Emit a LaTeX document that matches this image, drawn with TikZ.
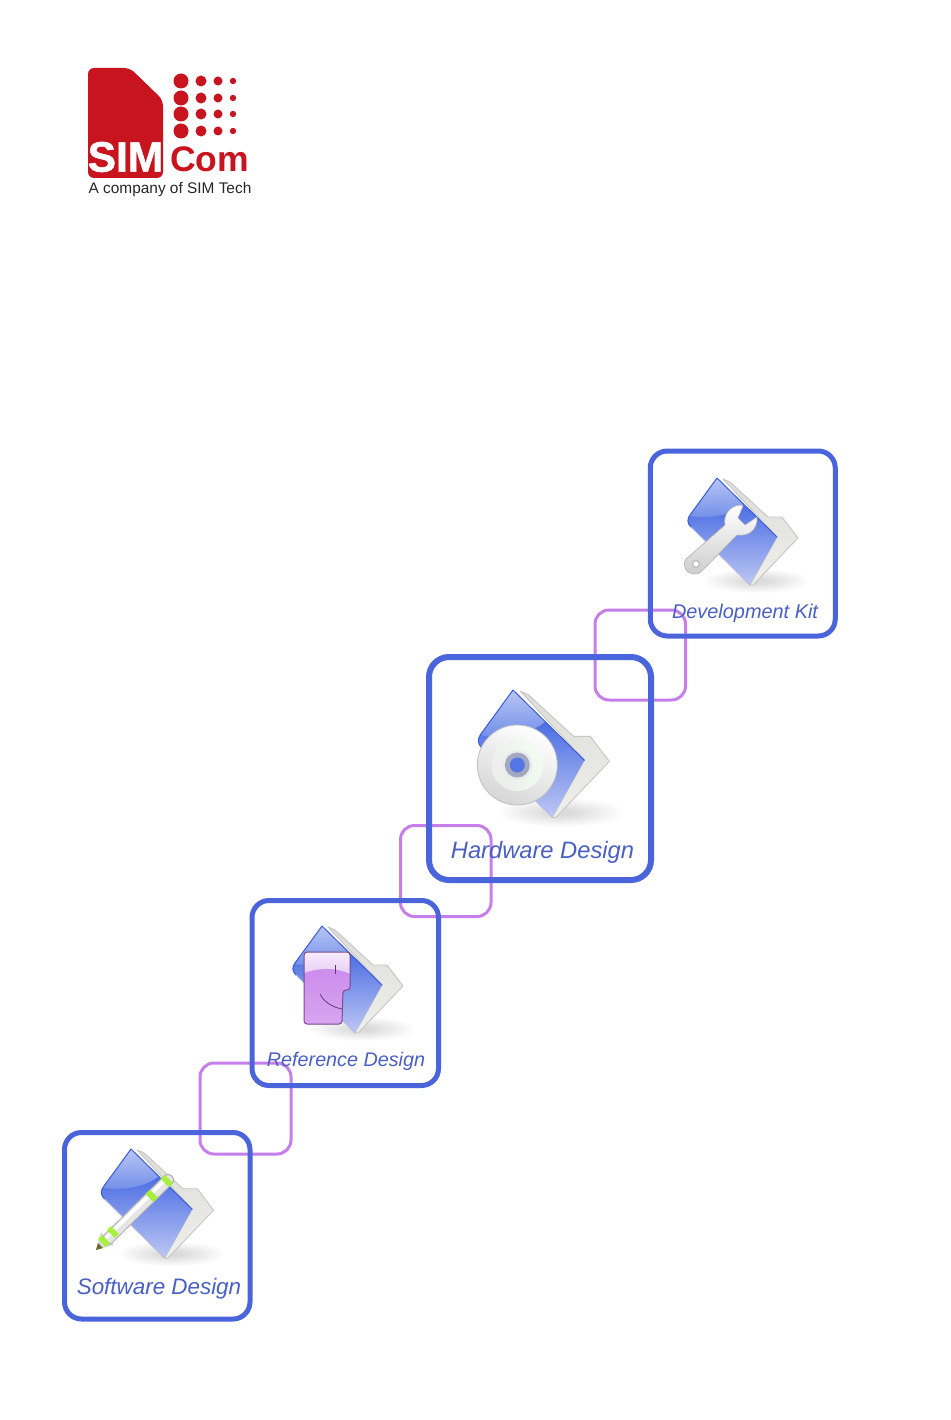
\documentclass[tikz,border=0pt]{standalone}
\usepackage{fontspec}
\setmainfont{Liberation Sans}
\newfontfamily\heavyfont{Liberation Sans}[BoldFeatures={FakeBold=1.2}]
\definecolor{simred}{HTML}{C8141E}
\definecolor{frameblue}{HTML}{4A64DC}
\definecolor{linkpurple}{HTML}{C67FEA}
\definecolor{labelblue}{HTML}{4A5FC4}
\definecolor{folderdark}{HTML}{4468E2}
\definecolor{foldermid}{HTML}{5476E4}
\definecolor{folderlight}{HTML}{C0C9F4}
\definecolor{glosslight}{HTML}{BCC8F4}
\definecolor{glossdark}{HTML}{6E8CE8}
\definecolor{edgeblue}{HTML}{3A5CD6}
\definecolor{paper}{HTML}{DCDCD9}
\definecolor{paperlow}{HTML}{EFEFEC}
\definecolor{paperedge}{HTML}{C6C6C2}
\definecolor{lime}{HTML}{A6F03C}
\tikzset{
  frame/.style={draw=frameblue,line width=#1,rounded corners=17pt,inner sep=0pt,outer sep=0pt},
  frame/.default=5pt,
  link/.style={draw=linkpurple,line width=3pt,rounded corners=14pt},
  boxlabel/.style={text=labelblue,font=\itshape,inner sep=0pt,anchor=center},
  limeband/.style={lime,line width=11pt},
  folder/.pic={
    % soft ground shadow
    \foreach \r in {1.00,0.93,...,0.2}{
      \fill[black,opacity=0.013] (40,103) ellipse ({52*\r} and {12*\r});
    }
    % back sheet
    \shade[top color=paper,bottom color=paperlow,draw=paperedge,line width=0.9pt,line join=round]
      (6,1) -- (13,4) -- (51,39) -- (65,39) -- (81,60) -- (36,107) -- (33,107) -- (60,59) -- cycle;
    % front flap
    \begin{scope}
      \clip (0,0) -- (-27,37) .. controls (-30,41) and (-30,45) .. (-26,49) -- (33,107) -- (60,59) -- cycle;
      \shade[top color=folderdark,middle color=foldermid,bottom color=folderlight] (-32,22) rectangle (62,108);
      \shade[top color=glosslight,bottom color=glossdark]
        (-32,-2) -- (28,-2) -- (28,26) .. controls (14,38) and (-12,42) .. (-32,37) -- cycle;
    \end{scope}
    \draw[edgeblue,line width=1pt,line join=round,line cap=round]
      (60,59) -- (0,0) -- (-27,37) .. controls (-30,41) and (-30,45) .. (-26,49);
    \draw[folderlight!80!gray,line width=0.8pt] (-26,49) -- (33,107);
  }
}
\begin{document}
\begin{tikzpicture}[x=1pt,y=-1pt]
\useasboundingbox (0,0) rectangle (950,1420);
\fill[white] (0,0) rectangle (950,1420);

% ---------- logo
\fill[simred,rounded corners=6pt] (88,68) -- (130,68) -- (163,100) -- (163,178) -- (88,178) -- cycle;
\foreach \yy in {81,98,114,131}{
  \fill[simred] (181,\yy) circle (7.5);
  \fill[simred] (201,\yy) circle (5.5);
  \fill[simred] (218,\yy) circle (4.5);
  \fill[simred] (233,\yy) circle (3.2);
}
\node[inner sep=0pt,anchor=center,text=white,font=\heavyfont\bfseries\fontsize{42.5}{43}\selectfont] (logosim) at (125.5,157) {SIM};
\node[inner sep=0pt,anchor=center,text=simred,font=\bfseries\fontsize{35.5}{36}\selectfont] (logocom) at (209.5,159) {Com};
\node[inner sep=0pt,anchor=center,text=black!85,font=\fontsize{15.4}{16}\selectfont] (logotag) at (170,190) {A company of SIM Tech};

% ---------- purple linking squares (under the blue frames)
\draw[link] (595,610) rectangle (685.5,700);
\draw[link] (400.5,825.5) rectangle (491,916.5);
\draw[link] (200,1063) rectangle (291,1154);

% ---------- blue frames
\node[frame=5pt,minimum width=185pt,minimum height=185pt] (devframe) at (742.75,543.5) {};
\node[frame=6pt,rounded corners=20pt,minimum width=222pt,minimum height=223pt] (hwframe) at (540,768.5) {};
\node[frame=5pt,minimum width=186.5pt,minimum height=185pt] (refframe) at (345.25,993) {};
\node[frame=5pt,minimum width=185.5pt,minimum height=186.5pt] (swframe) at (157.25,1225.75) {};

% ---------- Development Kit icon
\pic at (717,478) {folder};
\begin{scope}[shift={(717,478)}]
  \shade[top color=white,bottom color=black!20,draw=black!30,line width=0.6pt,line join=round]
    (-31,81) -- (8,47) .. controls (6,38) and (12,28) .. (23,27) -- (26,28)
    -- (21,40) -- (28,47) -- (40,39)
    .. controls (41,50) and (33,59) .. (20,57)
    -- (-15,93) .. controls (-19,98) and (-29,97) .. (-32,90)
    .. controls (-33,87) and (-33,83) .. (-31,81) -- cycle;
  \fill[black!25] (-21,86) circle (4.2);
  \fill[white] (-21,86) circle (2.6);
\end{scope}

% ---------- Hardware Design icon
\pic[scale=1.19] at (513,690) {folder};
\shade[top color=white,bottom color=black!16,shading angle=-25,draw=black!25,line width=0.8pt] (517.3,765) circle (40);
\shade[left color=black!6,right color=green!6!white,opacity=0.8] (517.3,765) circle (26);
\fill[black!8] (517.3,765) circle (15);
\fill[folderlight!55!gray] (517.3,765) circle (12.5);
\fill[foldermid] (517.3,765) circle (7.5);

% ---------- Reference Design icon
\pic at (322,926) {folder};
\begin{scope}[shift={(322,926)}]
  \shade[top color=white!85!linkpurple,bottom color=linkpurple!90!white,rounded corners=3pt]
    (-18,26) -- (28,26) -- (28,64) -- (21,64) -- (20,98) -- (-18,98) -- cycle;
  \begin{scope}
    \clip[rounded corners=3pt] (-18,26) -- (28,26) -- (28,64) -- (21,64) -- (20,98) -- (-18,98) -- cycle;
    \shade[top color=linkpurple!90!white,bottom color=linkpurple!70!white]
      (-18,47) .. controls (0,41) and (15,42) .. (28,48) -- (28,99) -- (-18,99) -- cycle;
  \end{scope}
  \draw[black!40!linkpurple,line width=1pt,rounded corners=3pt]
    (-18,26) -- (28,26) -- (28,64) -- (21,64) -- (20,98) -- (-18,98) -- cycle;
  \draw[black!55!linkpurple,line width=1pt] (13,39) -- (13,48);
  \draw[black!45!linkpurple,line width=0.9pt] (-2,68) .. controls (2,76) and (10,81) .. (20,83);
\end{scope}

% ---------- Software Design icon
\pic[scale=1.02] at (131,1149) {folder};
\begin{scope}[shift={(131,1149)}]
  % pencil tip
  \fill[black!15] (-35,101) -- (-30,83) -- (-17,96) -- cycle;
  \fill[olive!70!black] (-35,101) -- (-33,94) -- (-28,99) -- cycle;
  % barrel
  \draw[black!32,line width=12pt,line cap=round] (-23,90) -- (37,31);
  \draw[black!10,line width=10pt,line cap=round] (-23,90) -- (37,31);
  \draw[white,line width=3.5pt,line cap=round] (-24,88) -- (35,30);
  % green bands
  \draw[limeband] (-29,94) -- (-25,90);
  \draw[limeband] (-20,85) -- (-16,81);
  \draw[limeband] (18.5,49) -- (23,44.5);
  \draw[limeband] (34,34) -- (38,30);
\end{scope}

% ---------- labels
\node[boxlabel,font=\itshape\fontsize{19.9}{20}\selectfont] (devlabel) at (745,613) {Development Kit};
\node[boxlabel,font=\itshape\fontsize{23.7}{24}\selectfont] (hwlabel) at (542.5,852) {Hardware Design};
\node[boxlabel,font=\itshape\fontsize{19.75}{20}\selectfont] (reflabel) at (346,1061.5) {Reference Design};
\node[boxlabel,font=\itshape\fontsize{22.4}{23}\selectfont] (swlabel) at (159,1289) {Software Design};
\end{tikzpicture}
\end{document}
